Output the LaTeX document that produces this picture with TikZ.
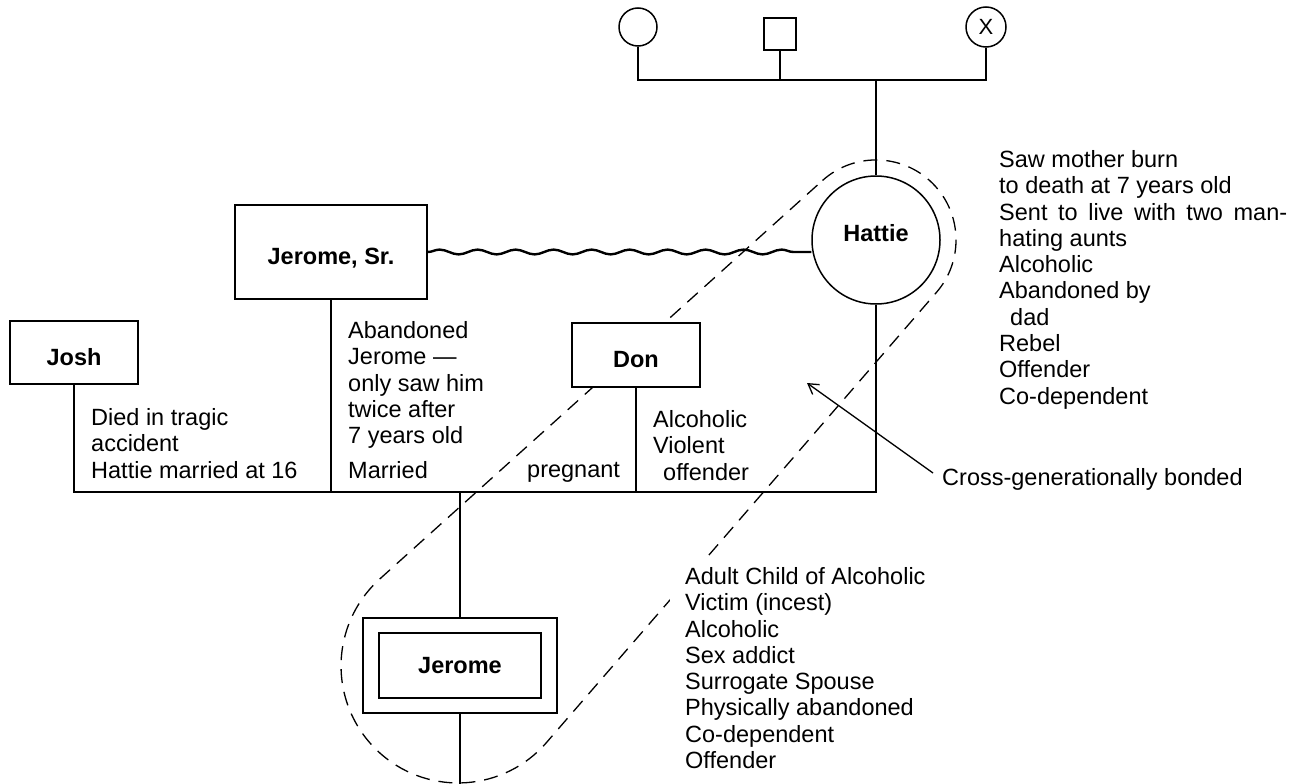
\documentclass[tikz,border=0pt]{standalone}
\usepackage{fontspec}
\setmainfont{Liberation Sans}
\usetikzlibrary{decorations.pathmorphing,arrows.meta,calc}
\newcommand{\namefnt}{\fontsize{23.5}{26.3}\selectfont\bfseries}
\newcommand{\notefnt}{\fontsize{23.5}{26.3}\selectfont}
\tikzset{
  ln/.style={line width=1.5pt},
  personbox/.style={draw, fill=white, rectangle, line width=1.5pt, inner sep=0pt, font=\namefnt, text height=25pt, text depth=0pt},
  plainbox/.style={draw, fill=white, rectangle, line width=1.5pt, inner sep=0pt},
  femcircle/.style={draw, circle, line width=1.5pt, inner sep=0pt},
  note/.style={inner sep=0pt, align=left, font=\notefnt},
  wavy/.style={line width=2.4pt, decorate, decoration={snake, segment length=38pt, amplitude=2.4pt}},
  dashline/.style={line width=1.3pt, dash pattern=on 14pt off 9pt},
  pointer/.style={line width=1.3pt, -{Straight Barb[length=10pt,width=12pt]}}
}
\begin{document}
\begin{tikzpicture}[x=1pt,y=1pt]
\useasboundingbox (0,0) rectangle (1291,-784);
\fill[white] (0,0) rectangle (1291,-784);

% enmeshment boundary (drawn first, the boxes cover it)
\draw[dashline] (822.5,-180.5) arc[start angle=132, end angle=-40.8, radius=80]
  -- (546.6,-742.4) arc[start angle=-40.8, end angle=-228, radius=117] -- cycle;

% grandparent generation
\node[femcircle, minimum size=38pt] (mgm) at (638,-27) {};
\node[plainbox, minimum width=32pt, minimum height=32pt] (sqf) at (780,-34) {};
\node[femcircle, minimum size=40pt, font=\fontsize{22}{22}\selectfont] (xgm) at (986,-27) {X};
\coordinate (sib) at (876,-80);

% parents
\node[femcircle, minimum size=128pt, label={[font=\namefnt, yshift=7pt]center:Hattie}] (hattie) at (876,-240) {};
\node[personbox, minimum width=192pt, minimum height=94pt] (jsr) at (331,-252) {Jerome, Sr.};
\node[personbox, minimum width=128pt, minimum height=63pt] (josh) at (74,-352.5) {Josh};
\node[personbox, minimum width=128pt, minimum height=64pt] (don) at (636,-355) {Don};

% child
\node[plainbox, minimum width=194pt, minimum height=95pt] (jouter) at (460,-665.5) {};
\node[draw, rectangle, line width=1.5pt, minimum width=162pt, minimum height=65pt, font=\namefnt] (jerome) at (460,-665.5) {Jerome};

\coordinate (mline) at (460,-492);
\coordinate (jbottom) at (460,-784);

% connectors
\draw[ln] (mgm.south) -- (mgm.south |- sib) -- (xgm.south |- sib) -- (xgm.south);
\draw[ln] (sqf.south) -- (sqf.south |- sib);
\draw[ln] (sib) -- (hattie.north);
\draw[wavy] (jsr.east) -- (jsr.east -| hattie.west);
\draw[ln] (josh.south) -- (josh.south |- mline) -- (hattie.south |- mline) -- (hattie.south);
\draw[ln] (jsr.south) -- (jsr.south |- mline);
\draw[ln] (don.south) -- (don.south |- mline);
\draw[ln] (mline) -- (jouter.north);
\draw[ln] (jouter.south) -- (jbottom);

% notes
\node[note, anchor=north west] (hnotes) at (999,-150.2) {Saw mother burn\\to death at 7 years old\\\makebox[288pt][s]{Sent to live with two man-}\\hating aunts\\Alcoholic\\Abandoned by\\\hspace*{11pt}dad\\Rebel\\Offender\\Co-dependent};
\node[note, anchor=north west] (joshnotes) at (91,-408.2) {Died in tragic\\accident\\Hattie married at 16};
\node[note, anchor=north west] (jsrnotes) at (348,-321.2) {Abandoned\\Jerome —\\only saw him\\twice after\\7 years old};
\node[note, anchor=base west] (married) at (348,-478) {Married};
\node[note, anchor=base west] (pregnant) at (527,-477) {pregnant};
\node[note, anchor=north west] (donnotes) at (653,-410.2) {Alcoholic\\Violent\\\hspace*{10pt}offender};
\node[note, anchor=north west, fill=white, inner xsep=15pt, inner ysep=8pt] (jnotes) at (670,-559.2) {Adult Child of Alcoholic\\Victim (incest)\\Alcoholic\\Sex addict\\Surrogate Spouse\\Physically abandoned\\Co-dependent\\Offender};
\node[note, anchor=base west] (cgb) at (942,-485) {Cross-generationally bonded};

\coordinate (arrowtail) at (933,-473);
\coordinate (arrowtip) at (807,-383);
\draw[pointer] (arrowtail) -- (arrowtip);
\end{tikzpicture}
\end{document}
